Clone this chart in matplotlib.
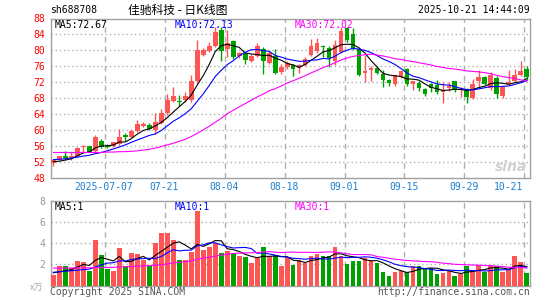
import numpy as np
import pandas as pd
import matplotlib
matplotlib.use("Agg")
from matplotlib import pyplot as plt

plt.rcParams['font.family'] = ['DejaVu Sans Mono', 'Noto Sans CJK SC']

code = "sh688708"
title = "佳驰科技 - 日K线图"
stamp = "2025-10-21 14:44:09"

opens = [51.7, 52.5, 53.3, 52.8, 53.5, 55.6, 55.9, 54.6, 57.3, 55.9,
         55.9, 56.5, 58.8, 58.2, 59.6, 60.9, 61.3, 59.9, 61.8, 64.2,
         67.3, 67.3, 67.5, 67.4, 72.2, 78.9, 79.8, 81.2, 85.0, 80.3,
         82.4, 78.5, 79.3, 77.3, 78.5, 80.4, 76.9, 78.5, 74.5, 75.8,
         76.2, 75.5, 76.4, 78.9, 79.7, 81.2, 80.7, 77.2, 79.6, 85.7,
         84.0, 80.4, 74.4, 75.0, 75.6, 74.1, 72.5, 71.6, 73.3, 75.4,
         71.6, 71.8, 70.2, 71.4, 71.2, 69.6, 70.6, 72.2, 69.9, 69.9,
         68.0, 72.3, 73.3, 70.5, 73.1, 68.5, 71.4, 72.2, 73.7, 75.4]
highs = [52.4, 53.5, 54.6, 54.3, 55.6, 56.2, 56.0, 58.6, 57.7, 56.5,
         57.0, 60.1, 59.3, 60.2, 62.4, 61.9, 61.7, 64.2, 65.3, 68.9,
         70.8, 68.8, 69.5, 73.7, 82.7, 80.6, 82.2, 85.9, 85.8, 85.0,
         82.6, 79.6, 79.6, 79.0, 81.8, 80.8, 79.8, 80.3, 76.6, 77.2,
         76.5, 76.6, 78.3, 82.8, 83.0, 81.3, 81.0, 82.5, 85.9, 85.9,
         85.5, 80.6, 78.8, 76.0, 76.0, 75.0, 72.8, 73.9, 74.9, 75.6,
         72.4, 72.4, 70.5, 71.8, 72.5, 72.0, 72.0, 72.3, 70.8, 70.5,
         72.7, 75.0, 73.5, 74.6, 73.5, 71.0, 75.0, 75.4, 77.2, 76.1]
lows = [50.9, 52.3, 52.5, 52.5, 53.3, 54.4, 54.3, 54.3, 55.4, 55.3,
        55.7, 56.3, 57.3, 57.9, 59.4, 60.6, 59.9, 59.0, 61.5, 63.6,
        67.0, 65.9, 67.0, 67.0, 71.8, 78.6, 79.6, 80.8, 77.2, 78.2,
        77.9, 78.0, 76.6, 77.0, 78.2, 74.0, 76.6, 74.0, 74.0, 75.2,
        73.5, 74.3, 76.0, 78.5, 79.4, 78.4, 75.9, 76.3, 79.3, 82.0,
        80.2, 73.5, 72.0, 72.2, 74.0, 70.8, 70.9, 70.9, 73.0, 71.0,
        69.9, 69.8, 68.5, 69.5, 69.1, 66.8, 69.7, 69.5, 68.2, 66.8,
        67.8, 70.8, 71.3, 70.0, 68.0, 68.0, 71.2, 72.0, 73.5, 72.5]
closes = [52.3, 53.3, 53.0, 53.3, 55.4, 55.9, 54.5, 58.2, 55.6, 55.7,
          56.9, 58.3, 58.2, 59.8, 61.4, 61.5, 60.3, 61.9, 64.2, 67.4,
          68.5, 67.0, 68.5, 72.2, 80.2, 80.1, 81.2, 84.6, 79.8, 81.8,
          78.3, 79.2, 77.6, 78.5, 81.0, 77.2, 79.4, 74.2, 75.8, 76.8,
          75.4, 76.3, 77.9, 81.0, 81.9, 80.9, 78.0, 81.4, 84.8, 82.6,
          80.4, 73.9, 74.7, 75.6, 74.4, 72.5, 71.7, 73.7, 74.7, 71.4,
          72.2, 70.5, 68.9, 70.5, 69.5, 70.1, 71.0, 69.9, 70.2, 68.3,
          71.4, 73.3, 71.6, 73.7, 69.1, 70.8, 72.0, 73.7, 74.7, 73.3]
volumes = [0.96, 1.87, 1.87, 1.65, 2.35, 2.22, 1.40, 4.33, 2.91, 1.59,
           1.40, 3.54, 1.81, 3.07, 2.98, 2.41, 1.81, 3.98, 4.96, 4.96,
           4.33, 2.44, 2.44, 3.17, 7.06, 3.39, 3.67, 3.98, 3.07, 3.29,
           3.00, 2.75, 2.66, 2.14, 2.60, 3.64, 2.76, 2.85, 1.81, 2.60,
           1.97, 2.38, 2.13, 2.76, 3.00, 2.82, 2.76, 3.61, 2.82, 2.06,
           2.35, 2.35, 2.60, 2.35, 2.13, 1.31, 0.87, 1.31, 1.40, 1.24,
           1.87, 1.87, 1.65, 1.65, 1.12, 1.18, 1.34, 0.93, 1.12, 1.81,
           1.40, 1.97, 1.24, 1.94, 1.87, 1.24, 1.43, 2.76, 2.25, 1.21]

# MA values before a full window exists inside the chart
ma5_head = [52.0, 52.1, 52.4, 52.7]
ma10_head = [52.5, 52.6, 52.7, 52.9, 53.1, 53.4, 53.6, 54.0, 54.3]
ma30_head = [54.3, 54.3, 54.3, 54.3, 54.3, 54.3, 54.3, 54.3, 54.3, 54.4,
             54.4, 54.5, 54.5, 54.6, 54.7, 54.9, 55.1, 55.4, 55.8, 56.2,
             56.6, 57.1, 57.6, 58.3, 59.1, 60.0, 60.9, 61.9, 62.9]
vma5_head = [1.2, 1.3, 1.4, 1.5]
vma10_head = [1.25, 1.30, 1.35, 1.40, 1.45, 1.50, 1.55, 1.75, 1.95]
vma30_head = [1.65, 1.65, 1.66, 1.66, 1.67, 1.67, 1.68, 1.69, 1.70, 1.71,
              1.72, 1.75, 1.77, 1.80, 1.83, 1.86, 1.88, 1.93, 1.98, 2.03,
              2.15, 2.20, 2.26, 2.32, 2.50, 2.58, 2.68, 2.78, 2.88]

tick_pos = [9, 19, 29, 39, 49, 59, 69, 79]
tick_labels = ["2025-07-07", "07-21", "08-04", "08-18", "09-01", "09-15", "09-29", "10-21"]
price_ticks = [48, 52, 56, 60, 64, 68, 72, 76, 80, 84, 88]
vol_ticks = [2, 4, 6, 8]
ma_labels = ["MA5:72.67", "MA10:72.13", "MA30:72.02"]
vol_ma_labels = ["MA5:1", "MA10:1", "MA30:1"]

RED = '#ff5555'
GREEN = '#00a000'
MA_COLORS = ['black', '#0000ff', '#ff00ff']
GRID = '#b0b0b0'


def moving_avg(values, n, head):
    s = pd.Series(values, dtype=float).rolling(n).mean().to_numpy()
    s[:n - 1] = head
    return s


W, H = 545, 300
fig = plt.figure(figsize=(W / 100, H / 100), dpi=100)


def px_rect(x0, y0, x1, y1):
    return [x0 / W, 1 - y1 / H, (x1 - x0) / W, (y1 - y0) / H]


ax = fig.add_axes(px_rect(50.7, 18.5, 529.5, 177.5))
axv = fig.add_axes(px_rect(50.7, 201.0, 529.5, 285.5))

x = np.arange(len(closes))
o = np.array(opens)
c = np.array(closes)
up = c >= o
colors = np.where(up, RED, GREEN)

# candles
ax.vlines(x, lows, highs, colors=colors, linewidth=1.0, zorder=3)
body_h = np.maximum(np.abs(c - o), 0.12)
ax.bar(x, body_h, bottom=np.minimum(o, c), width=0.8, color=colors, linewidth=0, zorder=4)

for n, head, col in zip([5, 10, 30], [ma5_head, ma10_head, ma30_head], MA_COLORS):
    ax.plot(x, moving_avg(closes, n, head), color=col, linewidth=0.8, zorder=5)

# volume
axv.bar(x, volumes, width=0.8, color=colors, linewidth=0, zorder=3)
for n, head, col in zip([5, 10, 30], [vma5_head, vma10_head, vma30_head], MA_COLORS):
    axv.plot(x, moving_avg(volumes, n, head), color=col, linewidth=0.8, zorder=5)

for a in (ax, axv):
    a.set_xlim(-0.45, 79.45)
    a.set_xticks([])
    for p in tick_pos:
        a.axvline(p - 0.42, color=GRID, linestyle=(0, (4, 3)), linewidth=1.0, zorder=1)
    for s in a.spines.values():
        s.set_color('#a0a0a0')
        s.set_linewidth(1.0)
    a.tick_params(length=0, pad=4)

ax.set_ylim(48, 88)
ax.set_yticks(price_ticks)
ax.set_yticklabels([str(t) for t in price_ticks], color='#ff0000', fontsize=7)
for t in price_ticks[1:-1]:
    ax.axhline(t, color=GRID, linestyle=(0, (1, 2)), linewidth=1.0, zorder=1)

axv.set_ylim(0, 8)
axv.set_yticks(vol_ticks)
axv.set_yticklabels([str(t) for t in vol_ticks], color='#999999', fontsize=7)
for t in vol_ticks[:-1]:
    axv.axhline(t, color=GRID, linestyle=(0, (1, 2)), linewidth=1.0, zorder=1)


def ftext(xp, yp, s, **kw):
    fig.text(xp / W, 1 - yp / H, s, va='center', **kw)


# date labels
for p, lab in zip(tick_pos, tick_labels):
    xp = 50 + 6 * p
    if lab == "10-21":
        ftext(523, 186.5, lab, ha='right', color='#1a7fd0', fontsize=7)
    else:
        ftext(xp, 186.5, lab, ha='center', color='#1a7fd0', fontsize=7)

ftext(50, 10, code, ha='left', fontsize=7, color='black')
ftext(178, 10, title, ha='center', fontsize=8.5, color='black', family=['Noto Sans CJK SC'])
ftext(529.5, 10, stamp, ha='right', fontsize=7, color='black')

for xp, lab, col in zip([55, 175, 295], ma_labels, MA_COLORS):
    ftext(xp, 24.5, lab, ha='left', fontsize=7, color=col)
for xp, lab, col in zip([55, 175, 295], vol_ma_labels, MA_COLORS):
    ftext(xp, 206.5, lab, ha='left', fontsize=7, color=col)

ftext(43, 288, "x万", ha='right', fontsize=6.5, color='#aaaaaa', family=['Noto Sans CJK SC'])
ftext(50, 292, "Copyright 2025 SINA.COM", ha='left', fontsize=7, color='#555555')
ftext(529.5, 292, "http://finance.sina.com.cn", ha='right', fontsize=7, color='#555555')
ftext(527, 167, "sina", ha='right', fontsize=10, color='#d0d0d0', style='italic',
      weight='bold', family=['DejaVu Sans'])

fig.savefig("out.png", dpi=100)
